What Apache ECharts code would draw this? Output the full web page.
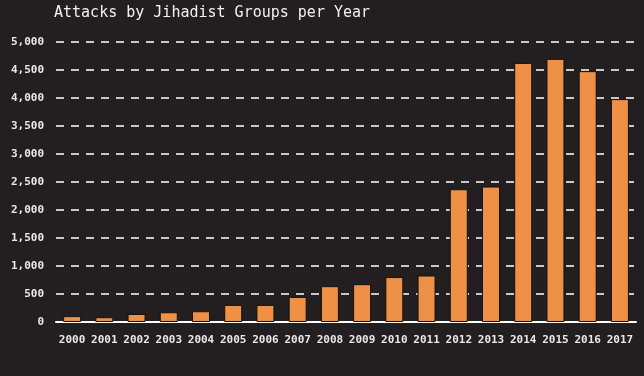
<!DOCTYPE html>
<html>
<head>
<meta charset="utf-8">
<script src="https://cdn.jsdelivr.net/npm/echarts@6/dist/echarts.min.js"></script>
<style>
  html, body { margin: 0; padding: 0; background: #231f20; }
  #chart { width: 644px; height: 376px; }
</style>
</head>
<body>
<div id="chart"></div>
<script>
// 年份与袭击次数
var years = ['2000', '2001', '2002', '2003', '2004', '2005', '2006', '2007', '2008',
  '2009', '2010', '2011', '2012', '2013', '2014', '2015', '2016', '2017'];
var attacks = [105, 85, 143, 174, 192, 305, 305, 448, 640,
  675, 802, 830, 2371, 2419, 4627, 4699, 4480, 3980];

var mono = '"DejaVu Sans Mono", "Liberation Mono", monospace';

var chart = echarts.init(document.getElementById('chart'), null, { renderer: 'canvas' });
var option = {
  backgroundColor: '#231f20',
  animation: false,
  title: {
    text: 'Attacks by Jihadist Groups per Year',
    left: 49,
    top: 1,
    textStyle: { color: '#f2f2f2', fontFamily: mono, fontSize: 15, fontWeight: 'normal' }
  },
  grid: {
    left: 56,
    right: 8,
    top: 42,
    bottom: 54
  },
  xAxis: {
    type: 'category',
    data: years,
    axisTick: { show: false },
    axisLine: { lineStyle: { color: '#ffffff', width: 2 } },
    axisLabel: {
      interval: 0,
      margin: 13,
      color: '#e8e8e8',
      fontFamily: mono,
      fontSize: 11,
      fontWeight: 'bold'
    }
  },
  yAxis: {
    type: 'value',
    min: 0,
    max: 5000,
    interval: 500,
    axisLine: { show: false },
    axisTick: { show: false },
    axisLabel: {
      margin: 12,
      color: '#e8e8e8',
      fontFamily: mono,
      fontSize: 11,
      fontWeight: 'bold',
      formatter: function (v) {
        return v.toLocaleString('en-US');
      }
    },
    splitLine: {
      lineStyle: { color: '#c8c8c8', width: 2, type: [8, 7] }
    }
  },
  series: [{
    name: 'Attacks',
    type: 'bar',
    data: attacks,
    barWidth: 18,
    itemStyle: {
      color: '#ee9146',
      borderColor: '#111111',
      borderWidth: 1
    }
  }]
};
chart.setOption(option);
</script>
</body>
</html>
